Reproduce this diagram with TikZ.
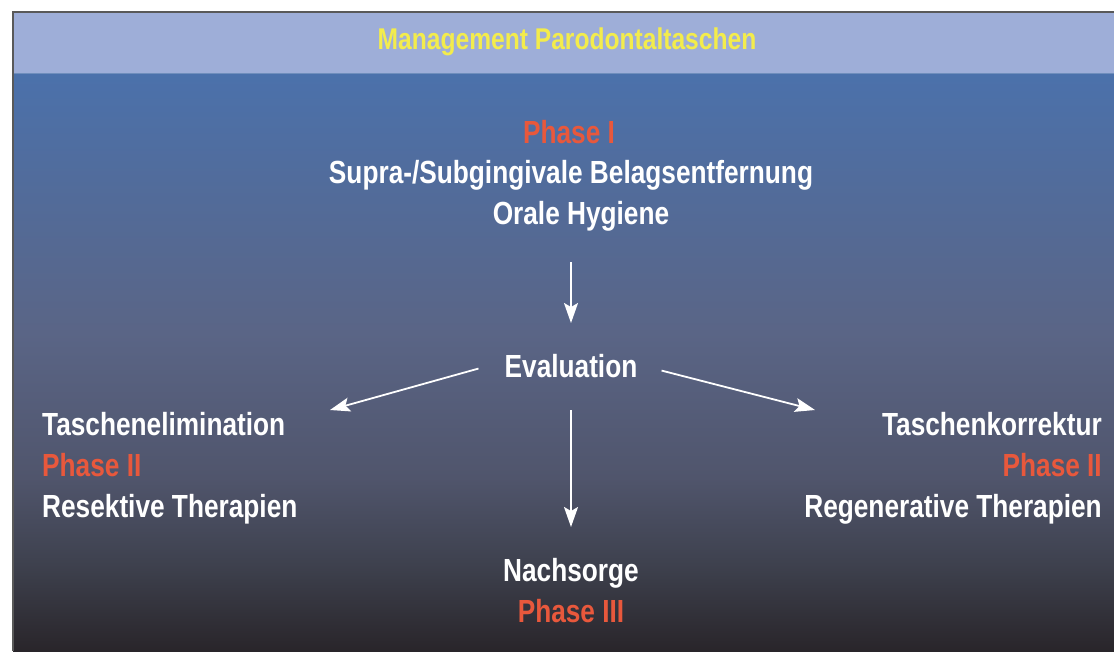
\documentclass[tikz,border=0pt]{standalone}
\usepackage{fontspec}
\setmainfont{Liberation Sans}[FakeStretch=0.82]
\usetikzlibrary{arrows.meta}

\definecolor{hdrblue}{HTML}{9EAED8}
\definecolor{topblue}{HTML}{4B71AB}
\definecolor{midblue}{HTML}{5A6586}
\definecolor{lowblue}{HTML}{50556C}
\definecolor{lowgray}{HTML}{3E414E}
\definecolor{bottomgray}{HTML}{29252A}
\definecolor{titleyellow}{HTML}{F3EC4C}
\definecolor{phasered}{HTML}{E8583C}

% background fade, blue at the top, nearly black at the bottom
\pgfdeclareverticalshading{bgfade}{100bp}{color(0bp)=(bottomgray); color(25bp)=(bottomgray);
  color(32.5bp)=(lowgray); color(40bp)=(lowblue); color(52.5bp)=(midblue);
  color(75bp)=(topblue); color(100bp)=(topblue)}

\begin{document}
\begin{tikzpicture}[x=1pt, y=-1pt,
    txt/.style={inner sep=0pt, font=\fontsize{32}{34}\selectfont\bfseries, text=white},
    phase/.style={txt, text=phasered},
    arr/.style={draw=white, line width=1.8pt, -{Stealth[length=20pt, width=14pt, inset=4pt]}}]
        \useasboundingbox (0,0) rectangle (1114,651);
        % Background with header band
        \shade[shading=bgfade] (13,73) rectangle (1114,651);
        \fill[hdrblue] (13,12) rectangle (1114,73);
        \draw[topblue!80!white, line width=1pt] (13,73) -- (1114,73);
        \draw[gray!70!black, line width=1.2pt] (13,651) -- (13,12) -- (1114,12);
        % Title
        \node[txt, text=titleyellow, font=\fontsize{30}{32}\selectfont\bfseries, anchor=base] (title) at (567,49) {Management Parodontaltaschen};
        % Phase I
        \node[phase, anchor=base] (ph1) at (569,143) {Phase I};
        \node[txt, anchor=base] (supra) at (571,183) {Supra-/Subgingivale Belagsentfernung};
        \node[txt, anchor=base] (hyg) at (581,224) {Orale Hygiene};
        % Evaluation
        \node[txt, anchor=base] (eval) at (571,377) {Evaluation};
        % Left column
        \node[txt, anchor=base west] (elim) at (42,435) {Taschenelimination};
        \node[phase, anchor=base west] (ph2l) at (42,476) {Phase II};
        \node[txt, anchor=base west] (resekt) at (42,517) {Resektive Therapien};
        % Right column
        \node[txt, anchor=base east] (korr) at (1102,435) {Taschenkorrektur};
        \node[phase, anchor=base east] (ph2r) at (1102,476) {Phase II};
        \node[txt, anchor=base east] (regen) at (1102,517) {Regenerative Therapien};
        % Phase III
        \node[txt, anchor=base] (nach) at (571,581) {Nachsorge};
        \node[phase, anchor=base] (ph3) at (571,622) {Phase III};
        % Arrows
        \draw[arr] ([xshift=-10pt, yshift=-38pt]hyg.base) -- ([yshift=54pt]eval.base);
        \draw[arr] ([xshift=-26pt, yshift=-3pt]eval.west) -- ([xshift=288pt, yshift=25pt]elim.base west);
        \draw[arr] ([xshift=24pt, yshift=-5pt]eval.east) -- ([xshift=-287pt, yshift=25pt]korr.base east);
        \draw[arr] ([yshift=-33pt]eval.base) -- ([yshift=54pt]nach.base);
    \end{tikzpicture}
\end{document}
